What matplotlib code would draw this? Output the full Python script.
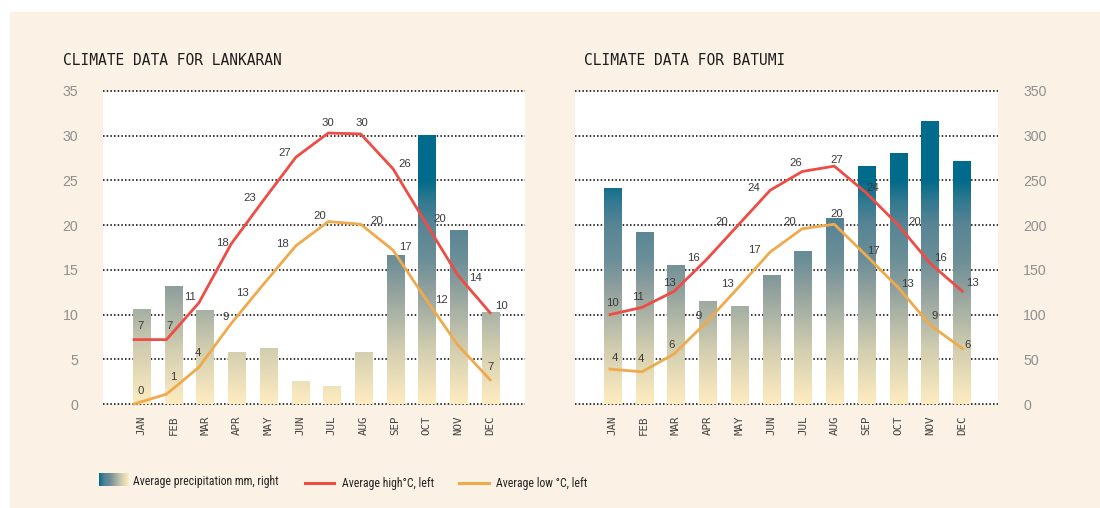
import numpy as np
import matplotlib
matplotlib.use("Agg")
import matplotlib.pyplot as plt
from matplotlib import font_manager
from matplotlib.colors import LinearSegmentedColormap
from matplotlib.patches import Rectangle

months = ["JAN", "FEB", "MAR", "APR", "MAY", "JUN",
          "JUL", "AUG", "SEP", "OCT", "NOV", "DEC"]

# Lankaran
lankaran_precip = [106, 132, 105, 58, 63, 26, 20, 58, 167, 301, 195, 103]
lankaran_high = [7.2, 7.2, 11.3, 17.9, 22.8, 27.6, 30.3, 30.2, 26.3, 20.3, 14.4, 10.2]
lankaran_low = [0.0, 1.1, 4.1, 9.0, 13.4, 17.7, 20.4, 20.1, 17.2, 11.8, 6.6, 2.7]
lankaran_high_labels = ["7", "7", "11", "18", "23", "27", "30", "30", "26", "20", "14", "10"]
lankaran_low_labels = ["0", "1", "4", "9", "13", "18", "20", "20", "17", "12", "", "7"]

# Batumi
batumi_precip = [242, 192, 155, 115, 110, 144, 171, 208, 266, 281, 316, 272]
batumi_high = [10.0, 10.8, 12.6, 16.1, 20.0, 23.9, 26.0, 26.6, 23.6, 20.0, 15.7, 12.6]
batumi_low = [3.9, 3.6, 5.6, 9.1, 13.0, 17.0, 19.6, 20.1, 16.6, 13.0, 8.8, 6.2]
batumi_high_labels = ["10", "11", "13", "16", "20", "24", "26", "27", "24", "20", "16", "13"]
batumi_low_labels = ["4", "4", "6", "9", "13", "17", "20", "20", "17", "13", "9", "6"]

# label offsets from the point, in pixels (x right, y down)
lank_high_off = [(7, -14), (3, -14), (-9, -6), (-9, -1), (-14, -2), (-11, -4),
                 (0, -10), (1, -11), (12, -5), (14, -3), (18, 3), (11, -7)]
lank_low_off = [(7, -13), (7, -17), (-1, -14), (-5, -7), (-21, 9), (-13, -2),
                (-9, -6), (16, -3), (12, -3), (16, 2), (0, 0), (0, -13)]
bat_high_off = [(3, -12), (-4, -10), (-5, -8), (-13, -2), (-16, -3), (-16, -2),
                (-6, -8), (2, -6), (6, -5), (16, -3), (10, -6), (10, -8)]
bat_low_off = [(5, -11), (-1, -13), (-2, -9), (-7, -7), (-11, -4), (-16, -2),
               (-12, -7), (2, -10), (7, -5), (9, -4), (4, -9), (5, -4)]

BG = "#FCF1E5"
RED = "#EE4C44"
ORANGE = "#EFAA4B"
TEAL = "#006B8A"

W, H = 1100, 508

stops = [0, 60, 130, 160, 200, 228, 250, 350]
stop_cols = ["#FEECC0", "#D2CEB0", "#8E9F9D", "#6C8F98", "#588595", "#2F7890", TEAL, TEAL]
cmap = LinearSegmentedColormap.from_list("precip", list(zip([s / 350 for s in stops], stop_cols)))

mono = "DejaVu Sans Mono"
sans = "Liberation Sans"

# a narrow face for the legend, if one is installed
names = {f.name for f in font_manager.fontManager.ttflist}
condensed = {f.name for f in font_manager.fontManager.ttflist
             if str(f.stretch) in ("condensed", "semi-condensed", "extra-condensed")}
legend_font, legend_size, legend_stretch = mono, 6.6, "normal"
for cand in ["Roboto Condensed", "Liberation Sans Narrow", "Open Sans Condensed",
             "DejaVu Sans Condensed", "Noto Sans Condensed"]:
    if cand in names:
        legend_font, legend_size = cand, 8.5
        break
else:
    for cand in ["DejaVu Sans", "Roboto", "Noto Sans", "Open Sans"]:
        if cand in condensed:
            legend_font, legend_size, legend_stretch = cand, 8.3, "condensed"
            break


def fig_rect(x0, y0, x1, y1):
    return [x0 / W, 1 - y1 / H, (x1 - x0) / W, (y1 - y0) / H]


fig = plt.figure(figsize=(W / 100, H / 100), dpi=100, facecolor="white")
fig.patches.append(Rectangle((10 / W, 0), (W - 10) / W, (H - 12) / H,
                             transform=fig.transFigure, color=BG, zorder=-10))


def panel(rect, xlim, precip, high, low, high_lab, low_lab, high_off, low_off,
          line_x0, line_x1, title, title_x, side):
    ax = fig.add_axes(rect)
    ax.set_facecolor("white")
    x = np.arange(12)
    for v in range(0, 351, 50):
        ax.axhline(v, color="black", lw=1.1, ls=(0, (1, 1.4)), zorder=0.5, clip_on=False)
    bars = ax.bar(x, precip, width=0.54, color="none", zorder=2)
    grad = np.linspace(0, 350, 400).reshape(-1, 1)
    for b in bars:
        im = ax.imshow(grad, extent=[b.get_x(), b.get_x() + b.get_width(), 0, 350],
                       origin="lower", aspect="auto", cmap=cmap, vmin=0, vmax=350, zorder=2)
        im.set_clip_path(b)
    ax.set_xlim(*xlim)
    ax.set_ylim(0, 350)
    for s in ax.spines.values():
        s.set_visible(False)
    ax.set_xticks(x)
    ax.set_xticklabels(months, rotation=90, family=mono, fontsize=7.8, color="#444444")
    ax.tick_params(axis="x", length=0, pad=8.5)

    axt = ax.twinx()
    axt.set_ylim(0, 35)
    for s in axt.spines.values():
        s.set_visible(False)
    xl = np.linspace(line_x0, line_x1, 12)
    axt.plot(xl, high, color=RED, lw=2.0, zorder=3, clip_on=False)
    axt.plot(xl, low, color=ORANGE, lw=2.0, zorder=3, clip_on=False)
    for vals, labs, offs in [(high, high_lab, high_off), (low, low_lab, low_off)]:
        for i in range(12):
            if labs[i]:
                axt.annotate(labs[i], (xl[i], vals[i]),
                             xytext=(offs[i][0] * 0.72, -offs[i][1] * 0.72),
                             textcoords="offset points", ha="center", va="center",
                             family=sans, fontsize=8.2, color="#3a3a3a", zorder=4)

    if side == "left":
        axt.yaxis.tick_left()
        axt.set_yticks(range(0, 36, 5))
        axt.tick_params(axis="y", length=0, pad=17.6, labelsize=10.2, labelcolor="#8f8f8f")
        for t in axt.get_yticklabels():
            t.set_family(sans)
        ax.set_yticks([])
    else:
        axt.set_yticks([])
        ax.yaxis.tick_right()
        ax.set_yticks(range(0, 351, 50))
        ax.tick_params(axis="y", length=0, pad=18.4, labelsize=10.2, labelcolor="#8f8f8f")
        for t in ax.get_yticklabels():
            t.set_family(sans)

    fig.text(title_x / W, 1 - 60.7 / H, title, family=mono, fontsize=10.5,
             color="#1e1e1e", va="center", ha="left")


panel(fig_rect(102.7, 91, 525, 404), (-1.23, 12.1), lankaran_precip,
      lankaran_high, lankaran_low, lankaran_high_labels, lankaran_low_labels,
      lank_high_off, lank_low_off, -0.24, 11.0, "CLIMATE DATA FOR LANKARAN", 63, "left")

panel(fig_rect(575, 91, 997.7, 404), (-1.18, 12.13), batumi_precip,
      batumi_high, batumi_low, batumi_high_labels, batumi_low_labels,
      bat_high_off, bat_low_off, -0.08, 11.02, "CLIMATE DATA FOR BATUMI", 584, "right")

# legend
sw = fig.add_axes(fig_rect(99.3, 473.3, 128.3, 486))
sw.imshow(np.linspace(250, 0, 100).reshape(1, -1), cmap=cmap, vmin=0, vmax=350, aspect="auto")
sw.axis("off")
leg_kw = dict(family=legend_font, stretch=legend_stretch, fontsize=legend_size,
              color="#222222", va="center", ha="left")
fig.text(133.3 / W, 1 - 481.7 / H, "Average precipitation mm, right", **leg_kw)
fig.add_artist(plt.Line2D([305 / W, 334 / W], [1 - 483.3 / H] * 2, color=RED, lw=2.2,
                          transform=fig.transFigure))
fig.text(341.7 / W, 1 - 483.7 / H, "Average high°C, left", **leg_kw)
fig.add_artist(plt.Line2D([459 / W, 489 / W], [1 - 483.3 / H] * 2, color=ORANGE, lw=2.2,
                          transform=fig.transFigure))
fig.text(496 / W, 1 - 483.7 / H, "Average low °C, left", **leg_kw)

fig.savefig("out.png", dpi=100, facecolor="white")
